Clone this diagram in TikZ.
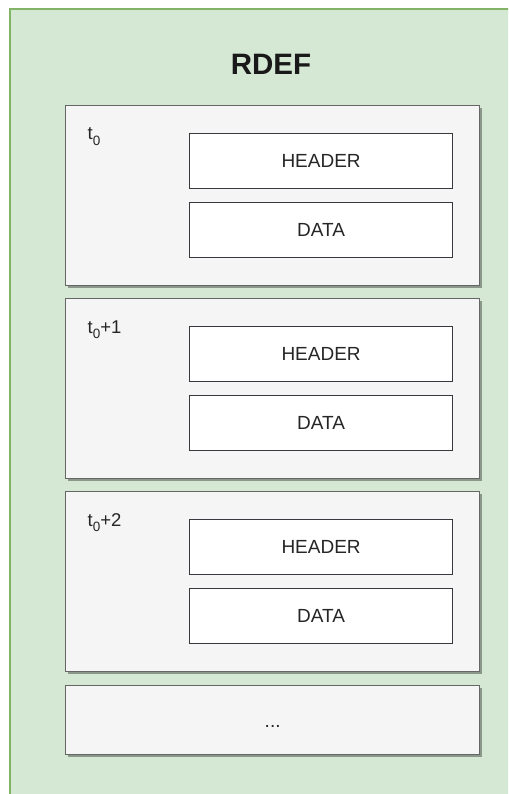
\documentclass[tikz,border=0pt]{standalone}
\usepackage{fontspec}
\setmainfont{Liberation Sans}
\usetikzlibrary{shadows}
\definecolor{grpfill}{HTML}{D5E8D4}
\definecolor{grpline}{HTML}{82B366}
\definecolor{panelfill}{HTML}{F5F5F5}
\definecolor{panelline}{HTML}{666666}
\definecolor{fieldline}{HTML}{36393D}
\newcommand{\tlabel}[1]{t\raisebox{-0.28em}{\fontsize{13.5}{13.5}\selectfont 0}#1}
\tikzset{
  panel/.style={draw=panelline, fill=panelfill, line width=1.3pt,
    minimum width=414, minimum height=180, anchor=north west, inner sep=0,
    drop shadow={shadow xshift=2.2pt, shadow yshift=-2.2pt, opacity=0.35, fill=black}},
  field/.style={draw=fieldline, fill=white, line width=1.2pt,
    minimum width=263, minimum height=55, anchor=north west, inner sep=0},
  fieldtext/.style={font=\fontsize{19}{21}\selectfont, text=black!85},
  steplabel/.style={font=\fontsize{18.5}{20}\selectfont, text=black!85, anchor=base west, inner sep=0},
}
\begin{document}
\begin{tikzpicture}[x=1pt, y=-1pt]
  \useasboundingbox (0,0) rectangle (508,794);
  \clip (0,0) rectangle (508,794);
  % outer group
  \node[draw=grpline, fill=grpfill, line width=2pt, minimum width=540, minimum height=820,
        anchor=north west, inner sep=0] (group) at (9,8) {};
  \node[font=\bfseries\fontsize{29.5}{32}\selectfont, text=black!90] (title) at (271,64) {RDEF};

  % time steps
  \foreach \i/\lab in {0/{}, 1/{+1}, 2/{+2}} {
    \pgfmathsetmacro{\yy}{105+193*\i}
    \node[panel] (p\i) at (65,\yy) {};
    \node[field] (h\i) at (189,\yy+28) {};
    \node[fieldtext] (ht\i) at (h\i.center) {HEADER};
    \node[field] (d\i) at (189,\yy+97) {};
    \node[fieldtext] (dt\i) at (d\i.center) {DATA};
    \node[steplabel] (l\i) at (87.5,\yy+35) {\tlabel{\lab}};
  }
  \node[panel, minimum height=69] (p3) at (65,685) {};
  \node[fieldtext, anchor=base] (more) at ([yshift=-7pt]p3.center) {...};
\end{tikzpicture}
\end{document}
